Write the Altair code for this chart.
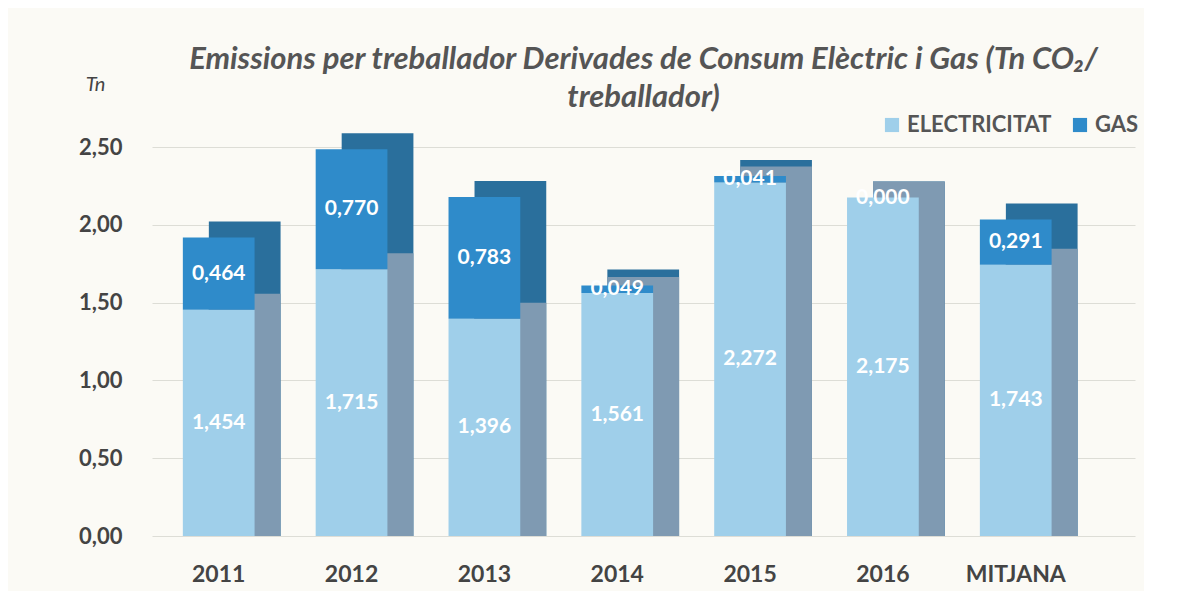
import altair as alt
import pandas as pd

categories = ["2011", "2012", "2013", "2014", "2015", "2016", "MITJANA"]
electricitat = [1.454, 1.715, 1.396, 1.561, 2.272, 2.175, 1.743]
gas = [0.464, 0.770, 0.783, 0.049, 0.041, 0.000, 0.291]
series = ["ELECTRICITAT", "GAS"]
front_colors = ["#9FCFEA", "#2F8BCA"]
side_elec_color = "#7F9AB2"
side_gas_color = "#2A6F9C"

rows = []
for c, e, g in zip(categories, electricitat, gas):
    rows.append({"cat": c, "serie": "ELECTRICITAT", "ord": 0, "val": e,
                 "lab": f"{e:.3f}".replace(".", ",")})
    rows.append({"cat": c, "serie": "GAS", "ord": 1, "val": g,
                 "lab": f"{g:.3f}".replace(".", ",")})
df = pd.DataFrame(rows)

FONT = "Lato"
DX, DY = 26, -16

x_enc = alt.X("cat:N", sort=categories,
              scale=alt.Scale(paddingInner=0.46, paddingOuter=0.43, align=0.27),
              axis=alt.Axis(title=None, labelAngle=0, labelFont=FONT, labelFontSize=23,
                            labelFontWeight="bold", labelColor="#444", labelPadding=27,
                            domain=False, ticks=False))

y_scale = alt.Scale(domain=[0, 2.5], nice=False)

base = alt.Chart(df)

# side faces (pseudo 3D): total column in dark blue, electricity part in grey-blue
side_total = base.transform_aggregate(
    total="sum(val)", groupby=["cat"]
).mark_bar(xOffset=DX, yOffset=DY, y2Offset=0, color=side_gas_color).encode(
    x=x_enc,
    y=alt.Y("total:Q", scale=y_scale),
    y2=alt.datum(0),
)

side_elec = base.transform_filter(
    alt.datum.serie == "ELECTRICITAT"
).mark_bar(xOffset=DX, yOffset=DY, y2Offset=0, color=side_elec_color).encode(
    x=x_enc,
    y=alt.Y("val:Q", scale=y_scale),
    y2=alt.datum(0),
)

front = base.mark_bar().encode(
    x=x_enc,
    y=alt.Y("val:Q", stack="zero", scale=y_scale,
            axis=alt.Axis(title="Tn", titleAngle=0, titleFont=FONT, titleFontSize=20,
                          titleFontStyle="italic", titleFontWeight="normal", titleColor="#444",
                          titleX=-57, titleY=-63, titleAlign="center", titleBaseline="middle",
                          values=[0, 0.5, 1.0, 1.5, 2.0, 2.5],
                          labelExpr="replace(format(datum.value, '.2f'), '.', ',')",
                          labelFont=FONT, labelFontSize=22, labelFontWeight="bold",
                          labelColor="#444", labelPadding=30,
                          domain=False, ticks=False, grid=True, gridColor="#DDDDD6",
                          gridWidth=1)),
    color=alt.Color("serie:N", scale=alt.Scale(domain=series, range=front_colors),
                    legend=alt.Legend(title=None, orient="none", direction="horizontal",
                                      legendX=729, legendY=-33, symbolType="square",
                                      symbolSize=200, labelFont=FONT, labelFontSize=22,
                                      labelFontWeight="bold", labelColor="#555",
                                      columnPadding=17, symbolStrokeWidth=0)),
    order=alt.Order("ord:Q"),
)

labels = base.transform_stack(
    stack="val", groupby=["cat"], as_=["v0", "v1"],
    sort=[alt.SortField("ord", order="ascending")]
).transform_calculate(
    mid="(datum.v0 + datum.v1) / 2"
).mark_text(font=FONT, fontSize=21, fontWeight="bold", color="white",
            baseline="middle").encode(
    x=alt.X("cat:N", sort=categories),
    y=alt.Y("mid:Q", scale=y_scale),
    text="lab:N",
)

chart = alt.layer(side_total, side_elec, front, labels).resolve_scale(
    color="independent"
).properties(
    width=983, height=389,
    background="#FBFAF5",
    padding={"top": 36, "left": 70, "right": 5, "bottom": 5},
    title=alt.TitleParams(
        text=["Emissions per treballador Derivades de Consum Elèctric i Gas (Tn CO\u2082/",
              "treballador)"],
        font=FONT, fontSize=31, fontStyle="italic", fontWeight="bold", color="#555",
        anchor="middle", frame="group", lineHeight=38, offset=-40),
).configure_view(stroke=None)

chart.save("out.html", embed_options={"renderer": "svg", "actions": False})
